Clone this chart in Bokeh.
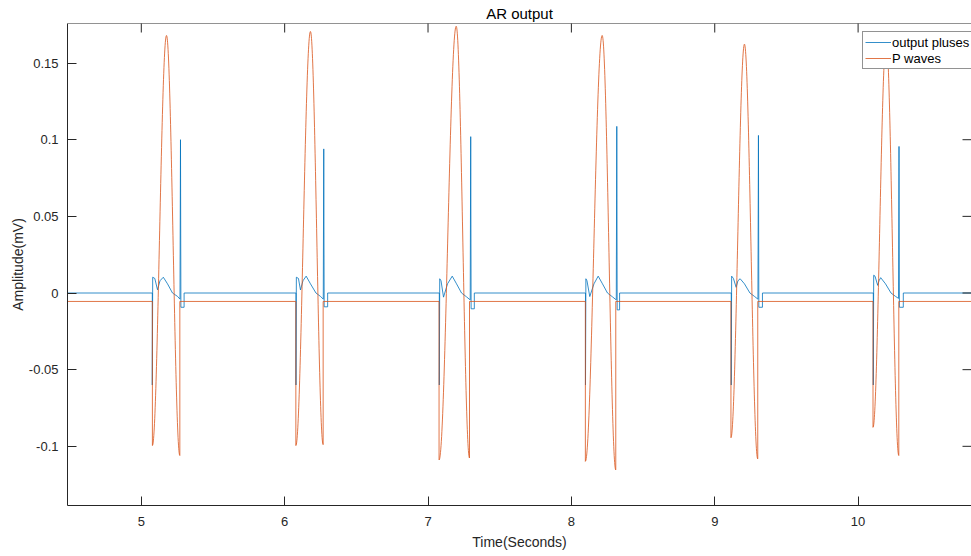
import math
from bokeh.plotting import figure
from bokeh.models import Range1d, FixedTicker, Legend, LegendItem, PrintfTickFormatter, Span
from bokeh.embed import file_html
from bokeh.resources import INLINE

# ---------------- data ----------------
x_ticks = [5, 6, 7, 8, 9, 10]
y_ticks = [-0.1, -0.05, 0.0, 0.05, 0.1, 0.15]
t_span = [4.4852, 10.791]
v_span = [-0.1386, 0.1758]

# P waves: one burst per beat (start trough, peak, end trough), baseline between
p_base = -0.0055
p_start = [5.0774, 6.0781, 7.0770, 8.0975, 9.1130, 10.1040]
p_trough1 = [-0.0995, -0.0995, -0.1089, -0.1098, -0.0944, -0.0876]
p_peak_t = [5.1758, 6.1799, 7.1966, 8.2148, 9.2072, 10.1960]
p_peak = [0.1680, 0.1706, 0.1740, 0.1680, 0.1623, 0.1650]
p_end = [5.2688, 6.2685, 7.2894, 8.3097, 9.3000, 10.2839]
p_trough2 = [-0.1060, -0.0989, -0.1076, -0.1154, -0.1082, -0.1060]

# output pulses: breakpoints of the blue trace
out_t = [4.4852,
         5.0767, 5.0767, 5.0795, 5.0942, 5.1130, 5.1304, 5.1535, 5.1828, 5.2176, 5.2525, 5.2699, 5.2734, 5.2762, 5.2985, 5.2985,
         6.0788, 6.0788, 6.0816, 6.0963, 6.1102, 6.1277, 6.1500, 6.1800, 6.2183, 6.2497, 6.2693, 6.2727, 6.2755, 6.2999, 6.2999,
         7.0788, 7.0788, 7.0816, 7.0907, 7.1081, 7.1360, 7.1688, 7.1988, 7.2337, 7.2686, 7.2944, 7.2978, 7.3006, 7.3230, 7.3230,
         8.0984, 8.0984, 8.1011, 8.1088, 8.1283, 8.1576, 8.1869, 8.2169, 8.2518, 8.2867, 8.3132, 8.3167, 8.3195, 8.3362, 8.3362,
         9.1151, 9.1151, 9.1179, 9.1304, 9.1493, 9.1618, 9.1772, 9.2072, 9.2455, 9.2769, 9.3013, 9.3048, 9.3076, 9.3327, 9.3327,
         10.1060, 10.1060, 10.1088, 10.1179, 10.1367, 10.1458, 10.1576, 10.1911, 10.2295, 10.2609, 10.2818, 10.2853, 10.2881, 10.3153, 10.3153,
         10.791]
out_v = [0.0,
         0.0, -0.060, 0.0103, 0.0095, 0.0021, 0.0080, 0.0103, 0.0060, 0.0, -0.0022, -0.0040, 0.1000, -0.0093, -0.0093, 0.0,
         0.0, -0.060, 0.0103, 0.0095, 0.0020, 0.0080, 0.0110, 0.0060, 0.0, -0.0022, -0.0040, 0.0940, -0.0090, -0.0090, 0.0,
         0.0, -0.060, 0.0093, 0.0080, -0.0027, 0.0060, 0.0110, 0.0060, 0.0, -0.0025, -0.0045, 0.1020, -0.0103, -0.0103, 0.0,
         0.0, -0.060, 0.0093, 0.0080, -0.0023, 0.0060, 0.0110, 0.0060, 0.0, -0.0025, -0.0045, 0.1087, -0.0110, -0.0110, 0.0,
         0.0, -0.060, 0.0110, 0.0095, 0.0037, 0.0080, 0.0093, 0.0060, 0.0, -0.0022, -0.0040, 0.1028, -0.0093, -0.0093, 0.0,
         0.0, -0.060, 0.0116, 0.0110, 0.0050, 0.0080, 0.0100, 0.0060, 0.0, -0.0022, -0.0035, 0.0956, -0.0093, -0.0093, 0.0,
         0.0]

# ---------------- styling ----------------
BLUE = "#0072BD"
ORANGE = "#D95319"
AX = "#262626"
FONT = "Liberation Sans"
LW = 0.8
K = 0.3642  # bezier handle fraction for a smooth half wave
TICK = 9    # inward tick length, px

p = figure(width=971, height=556,
           x_range=Range1d(t_span[0], t_span[1]),
           y_range=Range1d(v_span[0], v_span[1]),
           output_backend="svg", toolbar_location=None,
           min_border_left=67, min_border_right=0,
           min_border_top=23, min_border_bottom=51)
p.grid.visible = False
p.outline_line_color = None
p.background_fill_color = "white"
p.border_fill_color = "white"

p.title.text = "AR output"
p.title.align = "center"
p.title.text_font = FONT
p.title.text_font_size = "15px"
p.title.text_font_style = "normal"
p.title.text_color = "#000000"
p.title.standoff = 4

# blue trace
blue_r = p.line(out_t, out_v, line_color=BLUE, line_width=LW)

# orange baseline and vertical jumps
bx, by = [t_span[0]], [p_base]
for i in range(len(p_start)):
    bx += [p_start[i], p_start[i], float("nan"), p_end[i], p_end[i]]
    by += [p_base, p_trough1[i], float("nan"), p_trough2[i], p_base]
bx.append(t_span[1])
by.append(p_base)
orange_r = p.line(bx, by, line_color=ORANGE, line_width=LW)

# orange smooth half waves
rise_w = [pk - s for pk, s in zip(p_peak_t, p_start)]
fall_w = [e - pk for e, pk in zip(p_end, p_peak_t)]
p.bezier(x0=p_start, y0=p_trough1, x1=p_peak_t, y1=p_peak,
         cx0=[s + K * w for s, w in zip(p_start, rise_w)], cy0=p_trough1,
         cx1=[pk - K * w for pk, w in zip(p_peak_t, rise_w)], cy1=p_peak,
         line_color=ORANGE, line_width=LW)
p.bezier(x0=p_peak_t, y0=p_peak, x1=p_end, y1=p_trough2,
         cx0=[pk + K * w for pk, w in zip(p_peak_t, fall_w)], cy0=p_peak,
         cx1=[e - K * w for e, w in zip(p_end, fall_w)], cy1=p_trough2,
         line_color=ORANGE, line_width=LW)

# axes
fmt = PrintfTickFormatter(format="%g")
for ax in (p.xaxis[0], p.yaxis[0]):
    ax.axis_line_color = AX
    ax.major_tick_line_color = AX
    ax.major_tick_in = TICK
    ax.major_tick_out = 0
    ax.minor_tick_in = 0
    ax.minor_tick_out = 0
    ax.major_label_text_font = FONT
    ax.major_label_text_font_size = "13px"
    ax.major_label_text_color = AX
    ax.axis_label_text_font = FONT
    ax.axis_label_text_font_size = "14px"
    ax.axis_label_text_font_style = "normal"
    ax.axis_label_text_color = AX
    ax.formatter = fmt
p.xaxis.ticker = FixedTicker(ticks=x_ticks)
p.yaxis.ticker = FixedTicker(ticks=y_ticks)
p.xaxis.axis_label = "Time(Seconds)"
p.yaxis.axis_label = "Amplitude(mV)"
p.xaxis.major_label_standoff = 11
p.xaxis.axis_label_standoff = 5
p.yaxis.major_label_standoff = 9
p.yaxis.axis_label_standoff = 0

# box: top edge line, plus inward ticks on the top and right edges
p.add_layout(Span(location=v_span[1], dimension="width", line_color=AX, line_width=1))
p.scatter(x=x_ticks, y=[v_span[1]] * len(x_ticks), marker="dash", size=2 * TICK,
          angle=math.pi / 2, line_color=AX, line_width=1)
p.scatter(x=[t_span[1]] * len(y_ticks), y=y_ticks, marker="dash", size=2 * TICK,
          line_color=AX, line_width=1)

legend = Legend(items=[LegendItem(label="output pluses", renderers=[blue_r]),
                       LegendItem(label="P waves", renderers=[orange_r])],
                location=(795, 436), orientation="vertical",
                label_text_font=FONT, label_text_font_size="13px", label_text_color="#000000",
                label_height=16, glyph_height=16, glyph_width=26, label_standoff=1,
                spacing=0, padding=2, margin=0,
                border_line_color=AX, border_line_width=1,
                background_fill_color="white", background_fill_alpha=1.0)
p.add_layout(legend)

open("out.html", "w").write(file_html(p, INLINE))
